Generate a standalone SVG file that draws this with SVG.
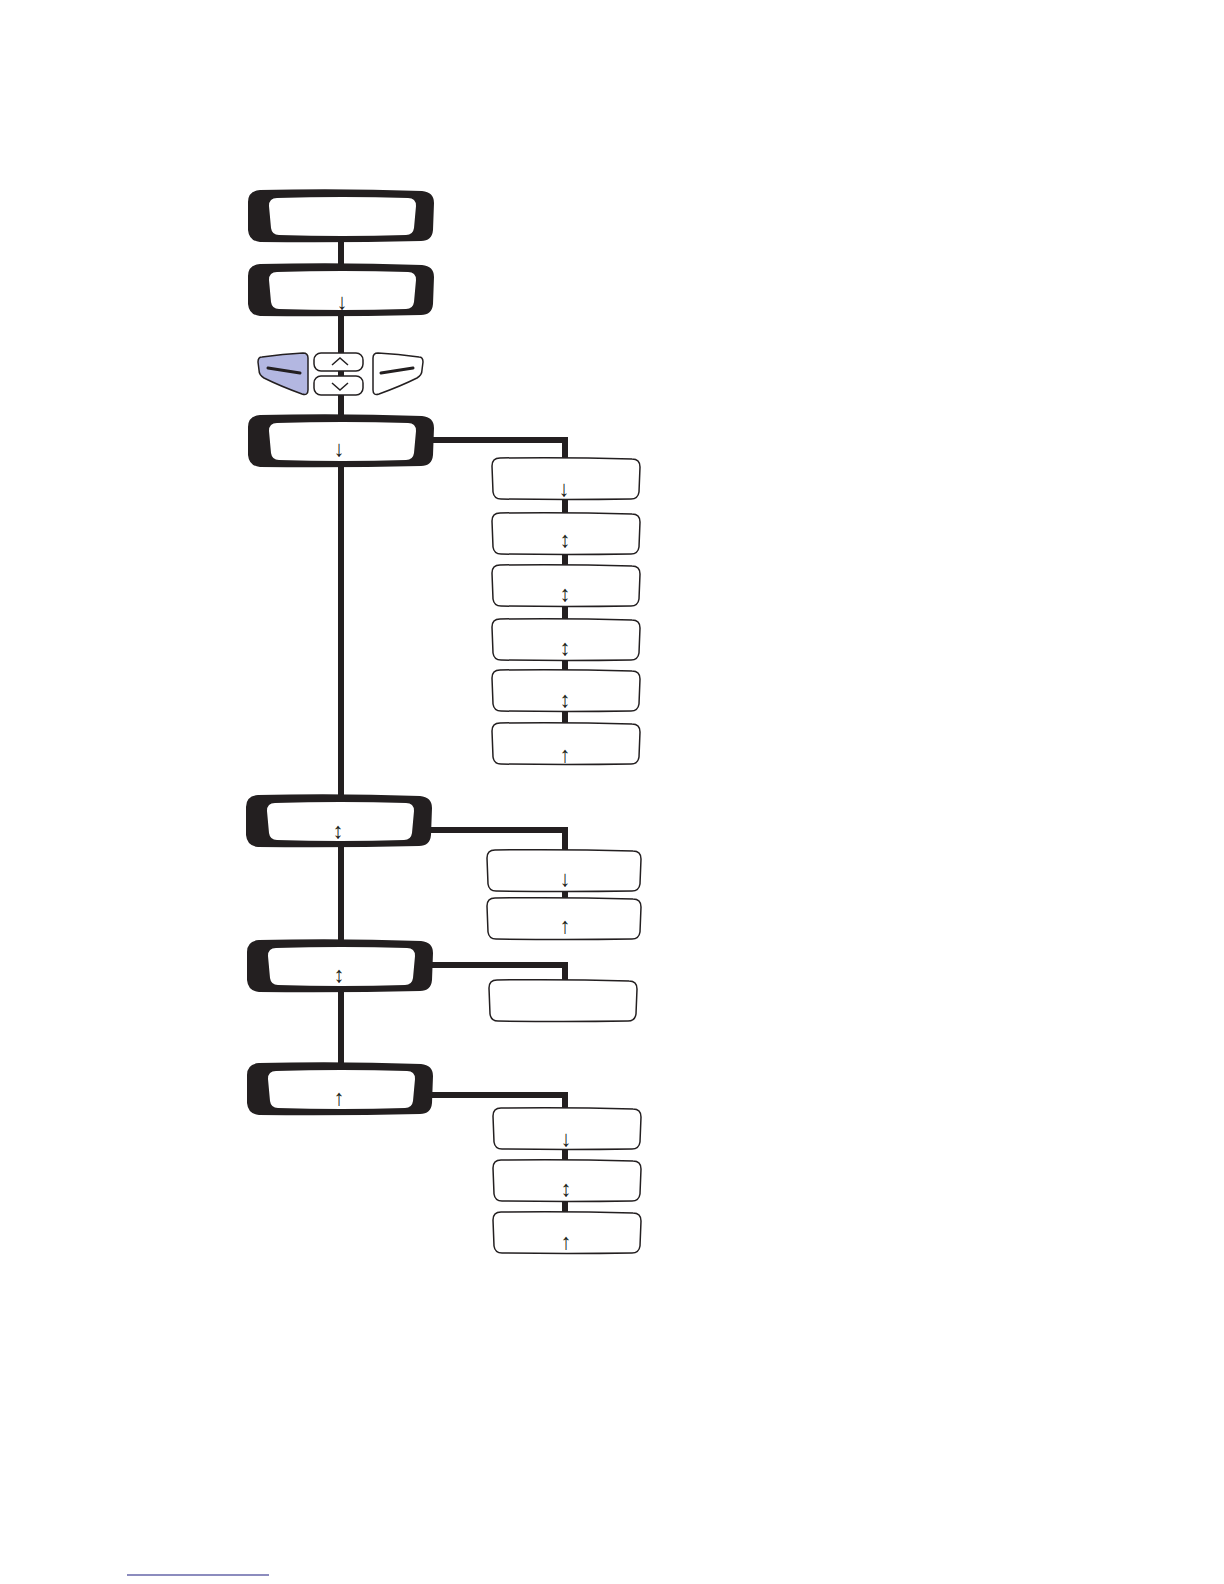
<svg xmlns="http://www.w3.org/2000/svg" xmlns:xlink="http://www.w3.org/1999/xlink" width="1224" height="1584" viewBox="0 0 1224 1584">
<style>
.conn{fill:none;stroke:#231f20;stroke-width:6}
.outer{fill:#231f20}
.inner{fill:#ffffff}
.child{fill:#ffffff;stroke:#231f20;stroke-width:1.5}
.btn{stroke:#231f20;stroke-width:1.5}
.arr{font-family:"Liberation Sans","DejaVu Sans",sans-serif;font-size:22px;fill:#231f20;text-anchor:middle}
</style>
<defs>
<g id="big">
<path class="outer" d="M12,0 Q93,-2 174,1 Q186,2 186,13 L185,40 Q184,51 173,51 Q93,53 12,52 Q1,51 0,40 L0,12 Q0,1 12,0 Z"/>
<path class="inner" d="M29,8 Q95,6 160,8 Q168,8 168,16 L166,38 Q165,45 158,45 Q95,47 31,45 Q24,45 23,38 L21,16 Q21,8 29,8 Z"/>
</g>
<path id="small" class="child" d="M8,0 Q74,-1 140,1 Q148,1 148,9 L147,34 Q146,41 139,41 Q74,42 9,41 Q2,41 1,34 L0,8 Q0,0 8,0 Z"/>
<path id="smallw" class="child" d="M8,0 Q77,-1 146,1 Q154,1 154,9 L153,34 Q152,41 145,41 Q77,42 9,41 Q2,41 1,34 L0,8 Q0,0 8,0 Z"/>
<g id="sidebtn">
<path class="btn" d="M262,357 Q283,354 303,353 Q308,353 308,358 L308,390 Q308,396 302,394 Q280,386 264,378 Q259,375 259,370 L258,362 Q258,357 262,357 Z"/>
<path d="M268,368 L300,373" stroke="#231f20" stroke-width="3" stroke-linecap="round" fill="none"/>
</g>
</defs>
<rect width="1224" height="1584" fill="#ffffff"/>
<g id="connectors">
<path class="conn" d="M341,240 V266"/>
<path class="conn" d="M341,314 V417"/>
<path class="conn" d="M341,465 V797"/>
<path class="conn" d="M341,844 V942"/>
<path class="conn" d="M341,990 V1065"/>
<path class="conn" d="M430,440 H565 V730"/>
<path class="conn" d="M429,830 H565 V900"/>
<path class="conn" d="M430,965 H565 V982"/>
<path class="conn" d="M430,1095 H565 V1215"/>
</g>
<g id="node-1"><use xlink:href="#big" x="248" y="190"/></g>
<g id="node-2"><use xlink:href="#big" x="248" y="264"/><text class="arr" x="342" y="308.5">↓</text></g>
<g id="buttons">
<use xlink:href="#sidebtn" fill="#b3b7e1"/>
<use xlink:href="#sidebtn" fill="#ffffff" transform="translate(681,0) scale(-1,1)"/>
<rect class="btn" x="314" y="353" width="49" height="18" rx="7" fill="#ffffff"/>
<rect class="btn" x="314" y="376" width="49" height="19" rx="7" fill="#ffffff"/>
<path d="M332,365 L340,358 L348,365" fill="none" stroke="#231f20" stroke-width="1.5"/>
<path d="M332,383 L340,390 L348,383" fill="none" stroke="#231f20" stroke-width="1.5"/>
</g>
<g id="node-3"><use xlink:href="#big" x="248" y="415"/><text class="arr" x="339" y="455.5" font-weight="bold">↓</text></g>
<g id="node-4"><use xlink:href="#big" x="246" y="795"/><text class="arr" x="338" y="837.5">↕</text></g>
<g id="node-5"><use xlink:href="#big" x="247" y="940"/><text class="arr" x="339" y="981.5">↕</text></g>
<g id="node-6"><use xlink:href="#big" x="247" y="1063"/><text class="arr" x="339" y="1104.5">↑</text></g>
<g id="node-3-1"><use xlink:href="#small" x="492" y="458"/><text class="arr" x="564" y="495.5">↓</text></g>
<g id="node-3-2"><use xlink:href="#small" x="492" y="513"/><text class="arr" x="565" y="546.5">↕</text></g>
<g id="node-3-3"><use xlink:href="#small" x="492" y="565"/><text class="arr" x="565" y="600.5">↕</text></g>
<g id="node-3-4"><use xlink:href="#small" x="492" y="619"/><text class="arr" x="565" y="654.5">↕</text></g>
<g id="node-3-5"><use xlink:href="#small" x="492" y="670"/><text class="arr" x="565" y="706.5">↕</text></g>
<g id="node-3-6"><use xlink:href="#small" x="492" y="723"/><text class="arr" x="565" y="761.5">↑</text></g>
<g id="node-4-1"><use xlink:href="#smallw" x="487" y="850"/><text class="arr" x="565" y="885.5" font-weight="bold">↓</text></g>
<g id="node-4-2"><use xlink:href="#smallw" x="487" y="898"/><text class="arr" x="565" y="932.5">↑</text></g>
<g id="node-5-1"><use xlink:href="#small" x="489" y="980"/></g>
<g id="node-6-1"><use xlink:href="#small" x="493" y="1108"/><text class="arr" x="566" y="1145.5">↓</text></g>
<g id="node-6-2"><use xlink:href="#small" x="493" y="1160"/><text class="arr" x="566" y="1195.5">↕</text></g>
<g id="node-6-3"><use xlink:href="#small" x="493" y="1212"/><text class="arr" x="566" y="1248.5">↑</text></g>
<line x1="127" y1="1575" x2="269" y2="1575" stroke="#1a1a7e" stroke-width="1.2"/>
</svg>
